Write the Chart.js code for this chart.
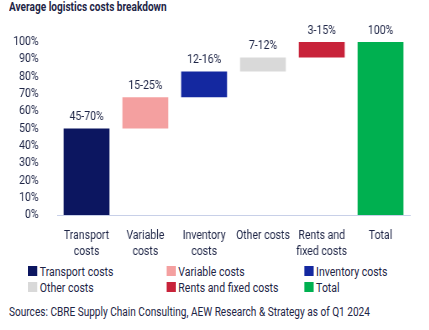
<!DOCTYPE html>
<html>
<head>
<meta charset="utf-8">
<script src="https://cdn.jsdelivr.net/npm/chart.js@4"></script>
<style>
    body { margin: 0; width: 429px; height: 330px; position: relative; background: #fff; overflow: hidden;
           font-family: Roboto, "DejaVu Sans Condensed", sans-serif; color: #1e2546; }
    .narrow { position: absolute; transform: scaleX(0.84); transform-origin: 0 0; white-space: nowrap; }
    #title { left: 9px; top: 0px; font-size: 12px; font-weight: bold; }
    #chartBox { left: 0; top: 0; width: 511px; height: 262px; }
    #legend { left: 28px; top: 264px; display: grid;
              grid-template-columns: 165px 164px 140px; row-gap: 2px; font-size: 12.5px; }
    #legend div { display: flex; align-items: center; height: 14px; }
    #legend span.box { width: 11px; height: 10px; margin-right: 3px; display: inline-block; }
    #source { left: 9px; top: 305px; font-size: 12px; }
</style>
</head>
<body>
<div id="title" class="narrow">Average logistics costs breakdown</div>
<div id="chartBox" class="narrow"><canvas id="wfChart" width="511" height="262"></canvas></div>
<div id="legend" class="narrow"></div>
<div id="source" class="narrow">Sources: CBRE Supply Chain Consulting, AEW Research &amp; Strategy as of Q1 2024</div>
<script>
// Data
const categories = [['Transport', 'costs'], ['Variable', 'costs'], ['Inventory', 'costs'], 'Other costs', ['Rents and', 'fixed costs'], 'Total'];
const legendNames = ['Transport costs', 'Variable costs', 'Inventory costs', 'Other costs', 'Rents and fixed costs', 'Total'];
const barStart = [0, 50, 68, 83, 91, 0];
const barEnd = [50, 68, 83, 91, 100, 100];
const rangeLabels = ['45-70%', '15-25%', '12-16%', '7-12%', '3-15%', '100%'];
const barColors = ['#0c1660', '#f4a0a0', '#1428a0', '#d9d9d9', '#c8233a', '#00b050'];
const yTicks = [0, 10, 20, 30, 40, 50, 60, 70, 80, 90, 100];

const textColor = '#1e2546';
const fontFamily = 'Roboto, "DejaVu Sans Condensed", sans-serif';

// Range labels above each floating bar
const rangeLabelPlugin = {
    id: 'rangeLabels',
    afterDatasetsDraw(chart) {
        const ctx = chart.ctx;
        const meta = chart.getDatasetMeta(0);
        ctx.save();
        ctx.font = '12.5px ' + fontFamily;
        ctx.fillStyle = textColor;
        ctx.textAlign = 'center';
        ctx.textBaseline = 'bottom';
        meta.data.forEach((bar, i) => {
            ctx.fillText(rangeLabels[i], bar.x, bar.y - 5);
        });
        ctx.restore();
    }
};

// canvas is drawn 511 wide and squeezed to 429 (x0.84) to get a condensed look
const wfChart = new Chart(document.getElementById('wfChart'), {
    type: 'bar',
    data: {
        labels: categories,
        datasets: [{
            data: barStart.map((s, i) => [s, barEnd[i]]),
            backgroundColor: barColors,
            borderWidth: 0,
            barPercentage: 0.78,
            categoryPercentage: 1.0
        }]
    },
    options: {
        responsive: false,
        animation: false,
        layout: { padding: { top: 42, right: 23, left: 0, bottom: 0 } },
        plugins: {
            legend: { display: false },
            tooltip: { enabled: false }
        },
        scales: {
            y: {
                min: 0,
                max: 100,
                afterFit: s => { s.width = 68; },
                afterBuildTicks: s => { s.ticks = yTicks.map(v => ({ value: v })); },
                grid: { display: false },
                border: { display: false },
                ticks: {
                    padding: 14,
                    autoSkip: false,
                    color: textColor,
                    font: { family: fontFamily, size: 12.5 },
                    callback: v => v + '%'
                }
            },
            x: {
                afterFit: s => { s.height = 47; },
                grid: { display: false },
                border: { display: true, color: '#c8d0e8', width: 1 },
                ticks: {
                    padding: 5,
                    autoSkip: false,
                    color: textColor,
                    maxRotation: 0,
                    font: { family: fontFamily, size: 12.5, lineHeight: 1.25 }
                }
            }
        }
    },
    plugins: [rangeLabelPlugin]
});

// HTML legend in three columns
const legendEl = document.getElementById('legend');
legendNames.forEach((name, i) => {
    const item = document.createElement('div');
    item.innerHTML = `<span class="box" style="background:${barColors[i]}"></span>${name}`;
    legendEl.appendChild(item);
});
</script>
</body>
</html>
